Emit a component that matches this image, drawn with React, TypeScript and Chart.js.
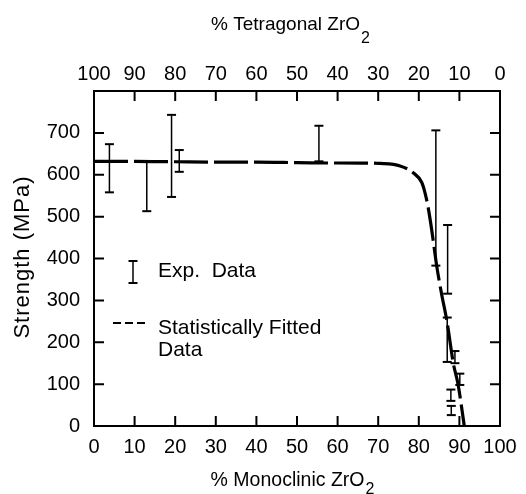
import React, { useEffect, useRef } from "react";
import { Chart, registerables } from "chart.js";

Chart.register(...registerables);

const FONT = "'Liberation Sans', Arial, sans-serif";

// Statistically fitted curve: % monoclinic ZrO2 vs strength (MPa)
const fitX = [0, 10, 20, 30, 40, 50, 60, 66, 70.4, 75.4, 78.6, 80.7, 81.5, 82.3, 83.2, 84.4, 85.6, 86.9, 88.5, 89.7, 91.2];
const fitY = [632, 632, 631, 630, 630, 629, 628, 628, 627, 621, 605, 582, 558, 522, 467, 383, 316, 252, 150, 98, 0];

// Experimental data error bars
const errX = [3.8, 13.0, 19.1, 21.0, 55.4, 84.2, 87.1, 87.0, 88.9, 90.1, 87.9, 88.0];
const errLow = [558, 513, 547, 607, 632, 383, 316, 153, 150, 98, 60, 26];
const errHigh = [673, 632, 743, 659, 717, 706, 480, 259, 179, 125, 87, 48];

const xTitle = "% Monoclinic ZrO";
const x2Title = "% Tetragonal ZrO";
const titleSub = "2";
const yTitle = "Strength (MPa)";
const legendExp = "Exp.  Data";
const legendFit1 = "Statistically Fitted";
const legendFit2 = "Data";

function drawWithSub(ctx: CanvasRenderingContext2D, main: string, sub: string, cx: number, base: number, size: number, subSize: number, spacing: string, drop: number) {
  ctx.save();
  ctx.textAlign = "left";
  ctx.textBaseline = "alphabetic";
  ctx.font = `${size}px ${FONT}`;
  (ctx as any).letterSpacing = spacing;
  const w1 = ctx.measureText(main).width;
  ctx.font = `${subSize}px ${FONT}`;
  const w2 = ctx.measureText(sub).width;
  const start = cx - (w1 + w2) / 2;
  ctx.font = `${size}px ${FONT}`;
  ctx.fillText(main, start, base);
  ctx.font = `${subSize}px ${FONT}`;
  ctx.fillText(sub, start + w1 + 1, base + drop);
  ctx.restore();
}

const overlay = {
  id: "overlay",
  afterDraw(chart: any) {
    const { ctx, chartArea: a, scales } = chart;
    ctx.save();
    ctx.strokeStyle = "#000";
    ctx.fillStyle = "#000";
    ctx.lineWidth = 2;
    ctx.strokeRect(a.left, a.top, a.right - a.left, a.bottom - a.top);
    const L = 10;
    ctx.beginPath();
    scales.x.ticks.forEach((t: any) => {
      if (t.value <= 0 || t.value >= 100) return;
      const p = scales.x.getPixelForValue(t.value);
      ctx.moveTo(p, a.bottom);
      ctx.lineTo(p, a.bottom - L);
    });
    scales.x2.ticks.forEach((t: any) => {
      if (t.value <= 0 || t.value >= 100) return;
      const p = scales.x2.getPixelForValue(t.value);
      ctx.moveTo(p, a.top);
      ctx.lineTo(p, a.top + L);
    });
    scales.y.ticks.forEach((t: any) => {
      if (t.value <= 0 || t.value >= 800) return;
      const p = scales.y.getPixelForValue(t.value);
      ctx.moveTo(a.left, p);
      ctx.lineTo(a.left + L, p);
      ctx.moveTo(a.right, p);
      ctx.lineTo(a.right - L, p);
    });
    ctx.stroke();

    // axis titles
    drawWithSub(ctx, x2Title, titleSub, 290, 30, 19, 16, "0px", 13);
    drawWithSub(ctx, xTitle, titleSub, 292, 486, 19.5, 16, "0px", 8);
    ctx.save();
    ctx.translate(23, 257);
    ctx.rotate(-Math.PI / 2);
    ctx.font = `22px ${FONT}`;
    (ctx as any).letterSpacing = "1px";
    ctx.textAlign = "center";
    ctx.textBaseline = "middle";
    ctx.fillText(yTitle, 0, 0);
    ctx.restore();

    // legend
    ctx.lineWidth = 1.5;
    ctx.beginPath();
    ctx.moveTo(133, 261);
    ctx.lineTo(133, 283);
    ctx.stroke();
    ctx.lineWidth = 2;
    ctx.beginPath();
    ctx.moveTo(128.5, 261);
    ctx.lineTo(137.5, 261);
    ctx.moveTo(128.5, 283);
    ctx.lineTo(137.5, 283);
    ctx.stroke();
    ctx.setLineDash([8, 4]);
    ctx.beginPath();
    ctx.moveTo(113, 323);
    ctx.lineTo(149, 323);
    ctx.stroke();
    ctx.setLineDash([]);
    ctx.font = `21px ${FONT}`;
    ctx.textAlign = "left";
    ctx.textBaseline = "alphabetic";
    ctx.fillText(legendExp, 158, 277);
    ctx.fillText(legendFit1, 158, 334);
    ctx.fillText(legendFit2, 158, 356);
    ctx.restore();
  },
};

export default function App() {
  const ref = useRef<HTMLCanvasElement | null>(null);
  useEffect(() => {
    document.body.style.margin = "0";
    const canvas = ref.current;
    if (!canvas) return;
    const fitData = fitX.map((x, i) => ({ x, y: fitY[i] }));
    const errData: any[] = [];
    errX.forEach((x, i) => {
      errData.push({ x, y: errLow[i] });
      errData.push({ x, y: errHigh[i] });
      errData.push({ x, y: null });
    });
    const tickFont = { family: FONT, size: 20 };
    const chart = new Chart(canvas, {
      type: "scatter",
      data: {
        datasets: [
          {
            data: fitData,
            showLine: true,
            borderColor: "#000",
            borderWidth: 3.2,
            borderDash: [34, 6],
            pointRadius: 0,
            cubicInterpolationMode: "monotone",
            xAxisID: "x",
            yAxisID: "y",
          } as any,
          {
            data: errData,
            showLine: true,
            spanGaps: false,
            borderColor: "#000",
            borderWidth: 1.5,
            pointStyle: "line",
            pointRadius: 4.5,
            pointBorderWidth: 2,
            pointBorderColor: "#000",
            pointBackgroundColor: "#000",
            xAxisID: "x",
            yAxisID: "y",
          } as any,
        ],
      },
      options: {
        animation: false,
        responsive: false,
        layout: { padding: { left: 0, right: 26, top: 0, bottom: 0 } },
        plugins: { legend: { display: false }, tooltip: { enabled: false } },
        scales: {
          x: {
            type: "linear",
            position: "bottom",
            min: 0,
            max: 100,
            ticks: { stepSize: 10, padding: 9, color: "#000", font: tickFont, maxRotation: 0, autoSkip: false },
            grid: { display: false, drawTicks: false },
            border: { display: false },
            afterFit: (s: any) => { s.height = 68; },
          },
          x2: {
            type: "linear",
            position: "top",
            min: 0,
            max: 100,
            reverse: true,
            ticks: { stepSize: 10, padding: 5, color: "#000", font: tickFont, maxRotation: 0, autoSkip: false },
            grid: { display: false, drawTicks: false },
            border: { display: false },
            afterFit: (s: any) => { s.height = 91; },
          },
          y: {
            type: "linear",
            min: 0,
            max: 800,
            ticks: {
              stepSize: 100,
              padding: 14,
              color: "#000",
              font: tickFont,
              callback: (v: any) => (v >= 800 ? "" : String(v)),
            },
            grid: { display: false, drawTicks: false },
            border: { display: false },
            afterFit: (s: any) => { s.width = 94; },
          },
        },
      } as any,
      plugins: [overlay],
    });
    return () => chart.destroy();
  }, []);
  return (
    <div style={{ width: 526, height: 494 }}>
      <canvas ref={ref} width={526} height={494} style={{ display: "block" }} />
    </div>
  );
}
